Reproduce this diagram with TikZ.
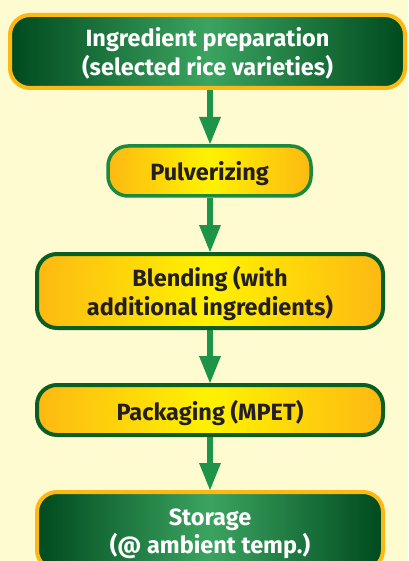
\documentclass[tikz,border=0pt]{standalone}
\usepackage{fontspec}
\setmainfont{Fira Sans}
\usetikzlibrary{arrows.meta}
\definecolor{bgc}{HTML}{FEFBD0}
\definecolor{gdark}{HTML}{004A1E}
\definecolor{glight}{HTML}{3BA460}
\definecolor{yedge}{HTML}{FDB913}
\definecolor{ymid}{HTML}{FFF200}
\definecolor{obord}{HTML}{FDB913}
\definecolor{gbord}{HTML}{1B8A3E}
\definecolor{gbordd}{HTML}{0B5E22}
\definecolor{arr}{HTML}{1E9448}
\definecolor{txtd}{HTML}{231F20}
\tikzset{
  greenbox/.style={rounded corners=20pt, draw=obord, line width=4pt,
    left color=gdark, right color=gdark, middle color=glight,
    text=white, font=\bfseries\fontsize{23.5}{28.5}\selectfont, align=center,
    inner sep=0pt, outer sep=0pt, text depth=0pt},
  yellowbox/.style={rounded corners=20pt, draw=gbordd, line width=4pt,
    left color=yedge, right color=yedge, middle color=ymid,
    text=txtd, font=\bfseries\fontsize{23.5}{28.5}\selectfont, align=center,
    inner sep=0pt, outer sep=0pt, text depth=0pt},
  flowarrow/.style={draw=arr, line width=6pt, -{Triangle[width=20pt,length=28pt]},
    shorten <=2pt, shorten >=1pt}
}
\begin{document}
\begin{tikzpicture}[x=1pt,y=1pt]
\useasboundingbox (0,0) rectangle (408,-561);
\fill[bgc] (0,0) rectangle (408,-561);
\begin{scope}
\clip (0,0) rectangle (408,-561);
\node[greenbox, minimum width=395pt, minimum height=73pt] (n1) at (207.5,-51.5)
  {Ingredient preparation\\(selected rice varieties)};
\node[yellowbox, draw=gbord, line width=3.5pt, minimum width=203pt, minimum height=50pt] (n2) at (209.5,-171)
  {Pulverizing};
\node[yellowbox, minimum width=346pt, minimum height=74pt] (n3) at (210,-291)
  {Blending (with\\additional ingredients)};
\node[yellowbox, minimum width=346pt, minimum height=50pt] (n4) at (210,-410)
  {Packaging (MPET)};
\node[greenbox, minimum width=346pt, minimum height=78pt] (n5) at (210,-531)
  {Storage\\(@ ambient temp.)};
\draw[flowarrow] (n1.south -| 210,0) -- (n2.north -| 210,0);
\draw[flowarrow] (n2.south -| 210,0) -- (n3.north -| 210,0);
\draw[flowarrow] (n3.south) -- (n4.north);
\draw[flowarrow] (n4.south) -- (n5.north);
\end{scope}
\end{tikzpicture}
\end{document}
